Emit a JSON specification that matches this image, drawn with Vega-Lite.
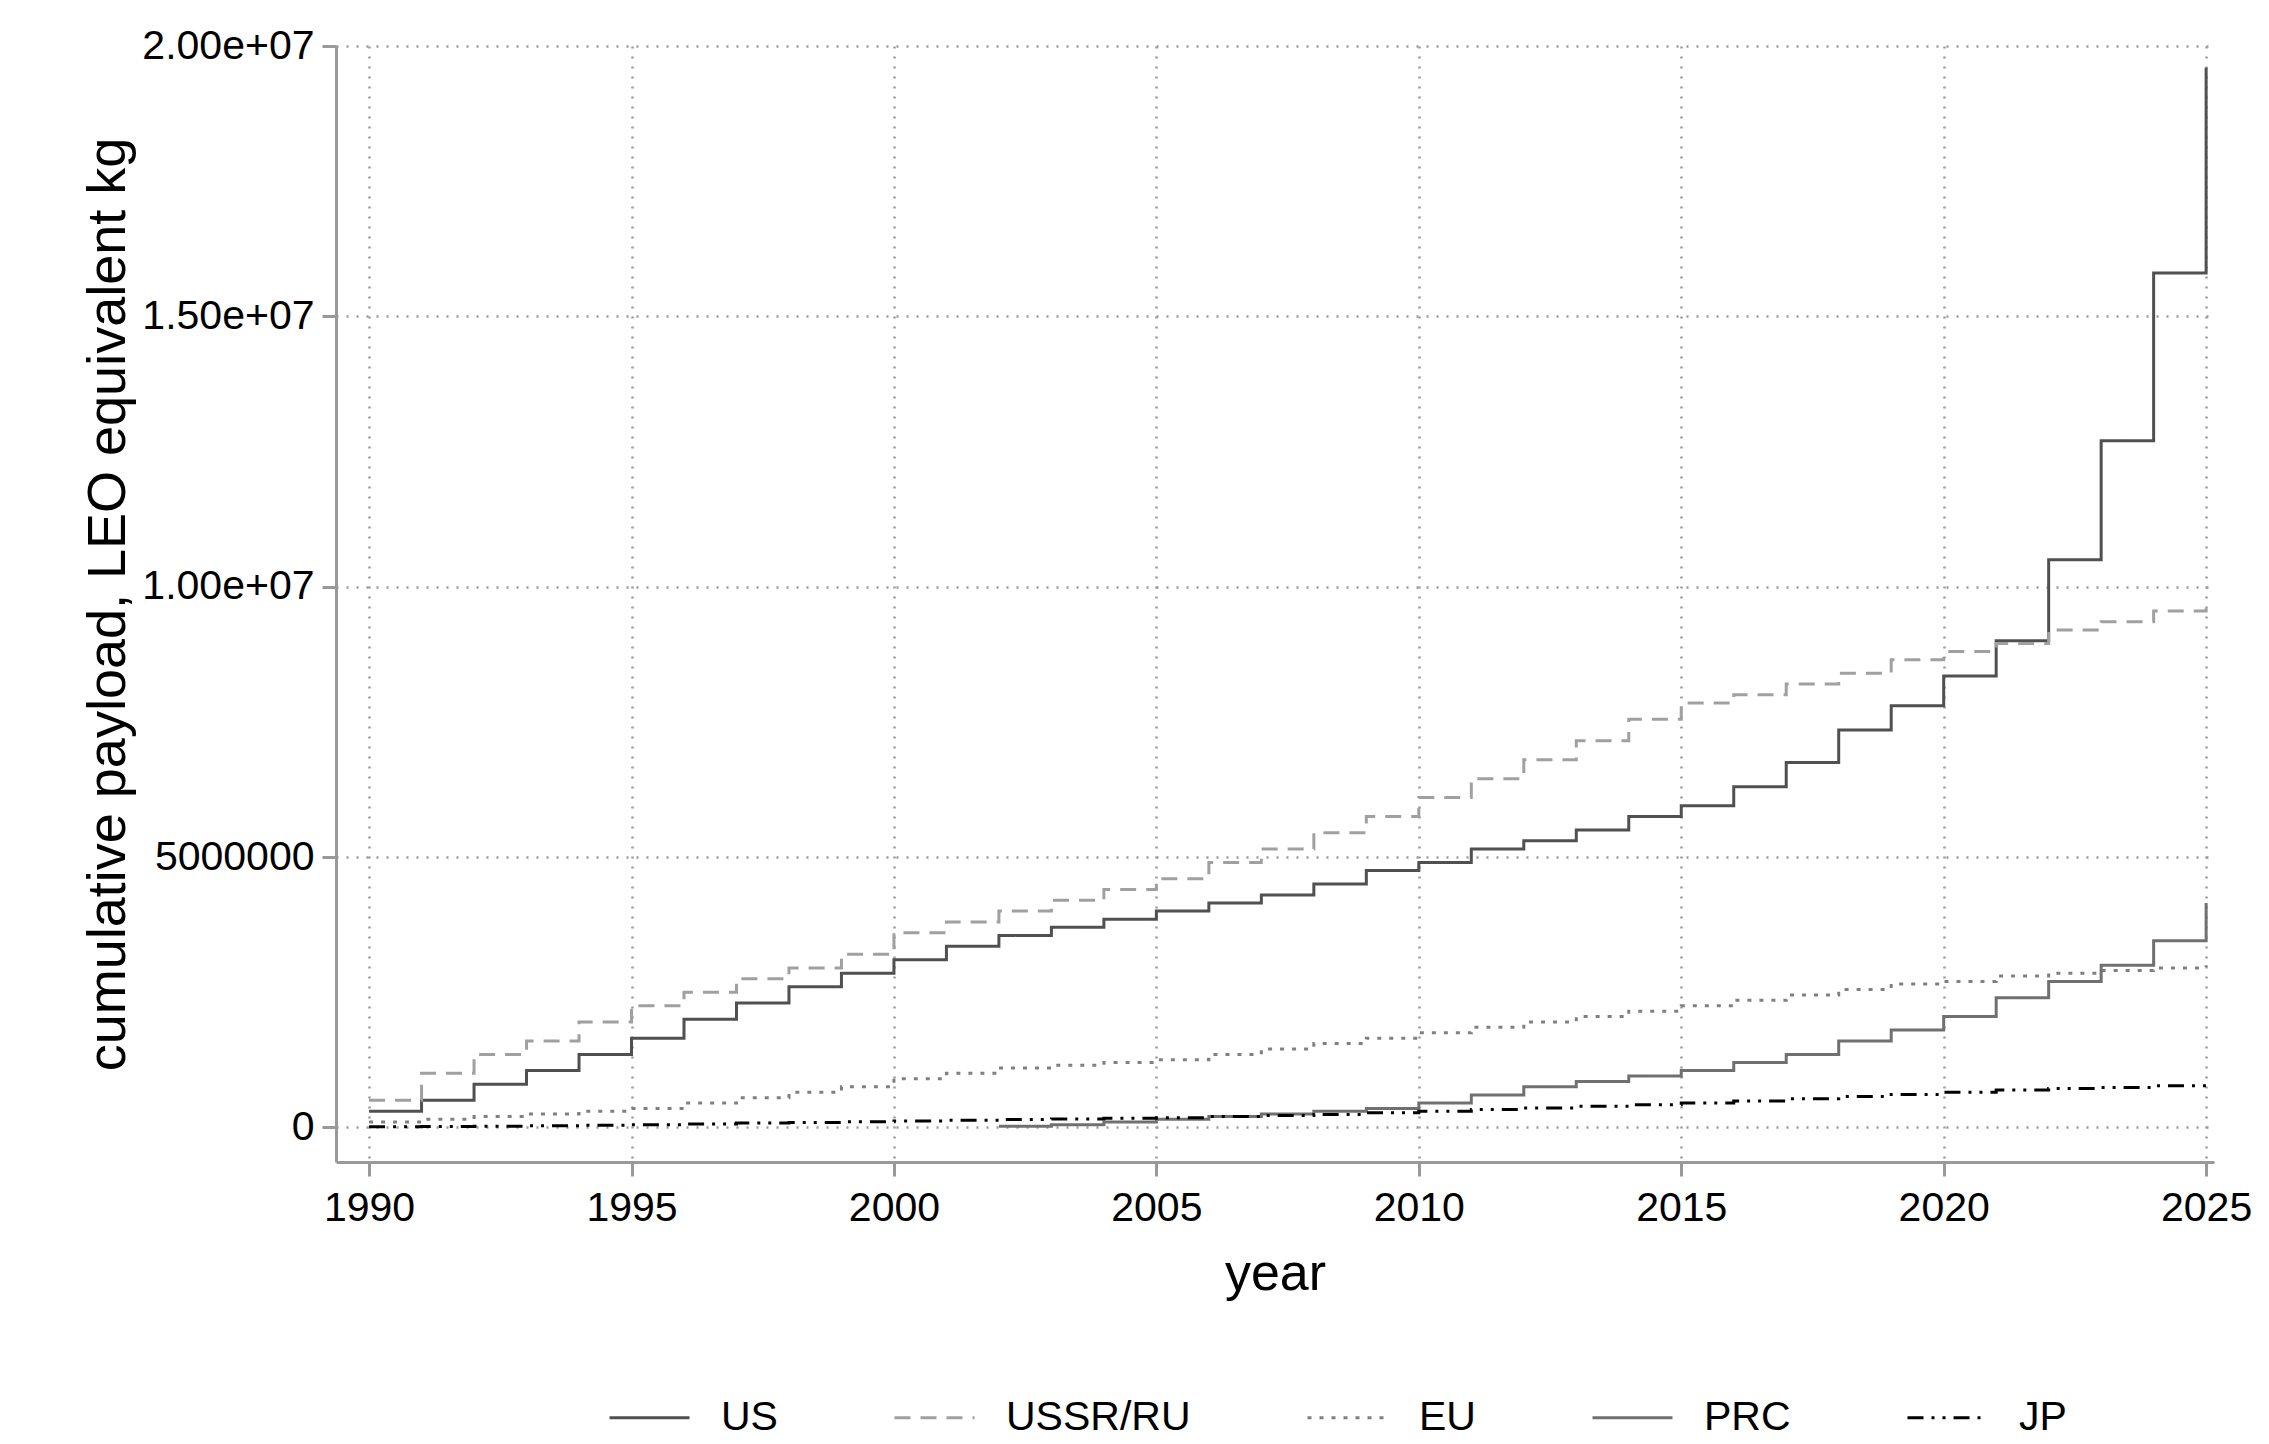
{
  "$schema": "https://vega.github.io/schema/vega-lite/v6.json",
  "width": 1878,
  "height": 1116,
  "autosize": "none",
  "padding": {"left": 336, "top": 46, "right": 55, "bottom": 282},
  "background": "white",
  "datasets": {
    "d": [
      {"year":1990,"c":"US","v":300000},{"year":1991,"c":"US","v":500000},{"year":1992,"c":"US","v":800000},{"year":1993,"c":"US","v":1050000},{"year":1994,"c":"US","v":1350000},{"year":1995,"c":"US","v":1650000},{"year":1996,"c":"US","v":2000000},{"year":1997,"c":"US","v":2300000},{"year":1998,"c":"US","v":2600000},{"year":1999,"c":"US","v":2850000},{"year":2000,"c":"US","v":3100000},{"year":2001,"c":"US","v":3350000},{"year":2002,"c":"US","v":3550000},{"year":2003,"c":"US","v":3700000},{"year":2004,"c":"US","v":3850000},{"year":2005,"c":"US","v":4000000},{"year":2006,"c":"US","v":4150000},{"year":2007,"c":"US","v":4300000},{"year":2008,"c":"US","v":4500000},{"year":2009,"c":"US","v":4750000},{"year":2010,"c":"US","v":4900000},{"year":2011,"c":"US","v":5150000},{"year":2012,"c":"US","v":5300000},{"year":2013,"c":"US","v":5500000},{"year":2014,"c":"US","v":5750000},{"year":2015,"c":"US","v":5950000},{"year":2016,"c":"US","v":6300000},{"year":2017,"c":"US","v":6750000},{"year":2018,"c":"US","v":7350000},{"year":2019,"c":"US","v":7800000},{"year":2020,"c":"US","v":8350000},{"year":2021,"c":"US","v":9000000},{"year":2022,"c":"US","v":10500000},{"year":2023,"c":"US","v":12700000},{"year":2024,"c":"US","v":15800000},{"year":2025,"c":"US","v":19600000},
      {"year":1990,"c":"USSR/RU","v":500000},{"year":1991,"c":"USSR/RU","v":1000000},{"year":1992,"c":"USSR/RU","v":1350000},{"year":1993,"c":"USSR/RU","v":1600000},{"year":1994,"c":"USSR/RU","v":1950000},{"year":1995,"c":"USSR/RU","v":2250000},{"year":1996,"c":"USSR/RU","v":2500000},{"year":1997,"c":"USSR/RU","v":2750000},{"year":1998,"c":"USSR/RU","v":2950000},{"year":1999,"c":"USSR/RU","v":3200000},{"year":2000,"c":"USSR/RU","v":3600000},{"year":2001,"c":"USSR/RU","v":3800000},{"year":2002,"c":"USSR/RU","v":4000000},{"year":2003,"c":"USSR/RU","v":4200000},{"year":2004,"c":"USSR/RU","v":4400000},{"year":2005,"c":"USSR/RU","v":4600000},{"year":2006,"c":"USSR/RU","v":4900000},{"year":2007,"c":"USSR/RU","v":5150000},{"year":2008,"c":"USSR/RU","v":5450000},{"year":2009,"c":"USSR/RU","v":5750000},{"year":2010,"c":"USSR/RU","v":6100000},{"year":2011,"c":"USSR/RU","v":6450000},{"year":2012,"c":"USSR/RU","v":6800000},{"year":2013,"c":"USSR/RU","v":7150000},{"year":2014,"c":"USSR/RU","v":7550000},{"year":2015,"c":"USSR/RU","v":7850000},{"year":2016,"c":"USSR/RU","v":8000000},{"year":2017,"c":"USSR/RU","v":8200000},{"year":2018,"c":"USSR/RU","v":8400000},{"year":2019,"c":"USSR/RU","v":8650000},{"year":2020,"c":"USSR/RU","v":8800000},{"year":2021,"c":"USSR/RU","v":8950000},{"year":2022,"c":"USSR/RU","v":9200000},{"year":2023,"c":"USSR/RU","v":9350000},{"year":2024,"c":"USSR/RU","v":9550000},{"year":2025,"c":"USSR/RU","v":9600000},
      {"year":1990,"c":"EU","v":100000},{"year":1991,"c":"EU","v":150000},{"year":1992,"c":"EU","v":200000},{"year":1993,"c":"EU","v":250000},{"year":1994,"c":"EU","v":300000},{"year":1995,"c":"EU","v":350000},{"year":1996,"c":"EU","v":450000},{"year":1997,"c":"EU","v":550000},{"year":1998,"c":"EU","v":650000},{"year":1999,"c":"EU","v":750000},{"year":2000,"c":"EU","v":900000},{"year":2001,"c":"EU","v":1000000},{"year":2002,"c":"EU","v":1100000},{"year":2003,"c":"EU","v":1150000},{"year":2004,"c":"EU","v":1200000},{"year":2005,"c":"EU","v":1250000},{"year":2006,"c":"EU","v":1350000},{"year":2007,"c":"EU","v":1450000},{"year":2008,"c":"EU","v":1550000},{"year":2009,"c":"EU","v":1650000},{"year":2010,"c":"EU","v":1750000},{"year":2011,"c":"EU","v":1850000},{"year":2012,"c":"EU","v":1950000},{"year":2013,"c":"EU","v":2050000},{"year":2014,"c":"EU","v":2150000},{"year":2015,"c":"EU","v":2250000},{"year":2016,"c":"EU","v":2350000},{"year":2017,"c":"EU","v":2450000},{"year":2018,"c":"EU","v":2550000},{"year":2019,"c":"EU","v":2650000},{"year":2020,"c":"EU","v":2700000},{"year":2021,"c":"EU","v":2800000},{"year":2022,"c":"EU","v":2850000},{"year":2023,"c":"EU","v":2900000},{"year":2024,"c":"EU","v":2950000},{"year":2025,"c":"EU","v":3000000},
      {"year":2002,"c":"PRC","v":20000},{"year":2003,"c":"PRC","v":50000},{"year":2004,"c":"PRC","v":100000},{"year":2005,"c":"PRC","v":150000},{"year":2006,"c":"PRC","v":200000},{"year":2007,"c":"PRC","v":250000},{"year":2008,"c":"PRC","v":300000},{"year":2009,"c":"PRC","v":350000},{"year":2010,"c":"PRC","v":450000},{"year":2011,"c":"PRC","v":600000},{"year":2012,"c":"PRC","v":750000},{"year":2013,"c":"PRC","v":850000},{"year":2014,"c":"PRC","v":950000},{"year":2015,"c":"PRC","v":1050000},{"year":2016,"c":"PRC","v":1200000},{"year":2017,"c":"PRC","v":1350000},{"year":2018,"c":"PRC","v":1600000},{"year":2019,"c":"PRC","v":1800000},{"year":2020,"c":"PRC","v":2050000},{"year":2021,"c":"PRC","v":2400000},{"year":2022,"c":"PRC","v":2700000},{"year":2023,"c":"PRC","v":3000000},{"year":2024,"c":"PRC","v":3450000},{"year":2025,"c":"PRC","v":4150000},
      {"year":1990,"c":"JP","v":10000},{"year":1991,"c":"JP","v":15000},{"year":1992,"c":"JP","v":20000},{"year":1993,"c":"JP","v":30000},{"year":1994,"c":"JP","v":40000},{"year":1995,"c":"JP","v":50000},{"year":1996,"c":"JP","v":65000},{"year":1997,"c":"JP","v":80000},{"year":1998,"c":"JP","v":90000},{"year":1999,"c":"JP","v":105000},{"year":2000,"c":"JP","v":120000},{"year":2001,"c":"JP","v":130000},{"year":2002,"c":"JP","v":145000},{"year":2003,"c":"JP","v":155000},{"year":2004,"c":"JP","v":170000},{"year":2005,"c":"JP","v":180000},{"year":2006,"c":"JP","v":200000},{"year":2007,"c":"JP","v":220000},{"year":2008,"c":"JP","v":240000},{"year":2009,"c":"JP","v":270000},{"year":2010,"c":"JP","v":300000},{"year":2011,"c":"JP","v":330000},{"year":2012,"c":"JP","v":360000},{"year":2013,"c":"JP","v":390000},{"year":2014,"c":"JP","v":420000},{"year":2015,"c":"JP","v":450000},{"year":2016,"c":"JP","v":490000},{"year":2017,"c":"JP","v":530000},{"year":2018,"c":"JP","v":570000},{"year":2019,"c":"JP","v":610000},{"year":2020,"c":"JP","v":650000},{"year":2021,"c":"JP","v":690000},{"year":2022,"c":"JP","v":720000},{"year":2023,"c":"JP","v":740000},{"year":2024,"c":"JP","v":770000},{"year":2025,"c":"JP","v":800000}
    ]
  },
  "data": {"name": "d"},
  "mark": {"type": "line", "interpolate": "step-after", "strokeWidth": 3},
  "encoding": {
    "x": {
      "field": "year", "type": "quantitative",
      "scale": {"domain": [1989.37, 2025.15], "nice": false, "zero": false},
      "axis": {
        "values": [1990,1995,2000,2005,2010,2015,2020,2025],
        "format": "d", "title": "year", "titleFontSize": 52, "titleFontWeight": "normal",
        "labelFontSize": 41, "titlePadding": 20, "labelPadding": 12,
        "domainColor": "#999", "domainWidth": 3, "tickColor": "#999", "tickWidth": 3, "tickSize": 14,
        "grid": true, "gridDash": [2, 8], "gridColor": "#999", "gridWidth": 2.5, "labelFlush": false
      }
    },
    "y": {
      "field": "v", "type": "quantitative",
      "scale": {"domain": [-640000, 20000000], "nice": false, "zero": false},
      "axis": {
        "values": [0, 5000000, 10000000, 15000000, 20000000],
        "labelExpr": "datum.value == 0 ? '0' : datum.value == 5000000 ? '5000000' : datum.value == 10000000 ? '1.00e+07' : datum.value == 15000000 ? '1.50e+07' : '2.00e+07'",
        "title": "cumulative payload, LEO equivalent kg", "titleFontSize": 54, "titleFontWeight": "normal",
        "labelFontSize": 41, "titlePadding": 6, "labelPadding": 8,
        "domainColor": "#999", "domainWidth": 3, "tickColor": "#999", "tickWidth": 3, "tickSize": 14,
        "grid": true, "gridDash": [2, 8], "gridColor": "#999", "gridWidth": 2.5
      }
    },
    "color": {
      "field": "c", "type": "nominal",
      "scale": {"domain": ["US","USSR/RU","EU","PRC","JP"], "range": ["#505050","#a0a0a0","#808080","#707070","#000000"]},
      "legend": {
        "title": null, "orient": "none", "legendX": 272, "legendY": 1330,
        "direction": "horizontal", "columns": 5, "symbolType": "stroke", "symbolSize": 6400,
        "symbolStrokeWidth": 3, "labelFontSize": 41, "labelLimit": 400, "columnPadding": 110, "labelOffset": 30
      }
    },
    "strokeDash": {
      "field": "c", "type": "nominal",
      "scale": {"domain": ["US","USSR/RU","EU","PRC","JP"], "range": [[1,0],[16,10],[4,8],[1,0],[16,8,3,8,3,8]]},
      "legend": null
    }
  },
  "config": {
    "font": "Liberation Sans",
    "view": {"stroke": null}
  }
}
